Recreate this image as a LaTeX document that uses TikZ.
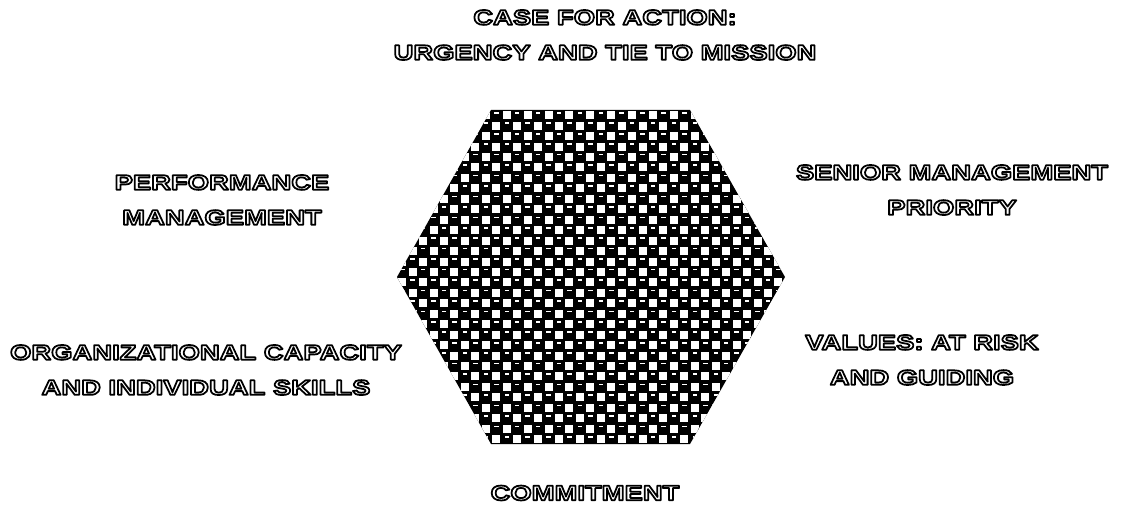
\documentclass[tikz,border=0pt]{standalone}
\usepackage{fontspec}
\usepackage{tikz}
\usetikzlibrary{positioning, calc}
\newfontfamily\titfont{Liberation Sans}[FakeStretch=1.3]
% lettere vuote, solo contorno
\newcommand{\bordo}[1]{\special{pdf:literal direct 1 Tr 1.0 w 1 j}#1\special{pdf:literal direct 0 Tr}}

\begin{document}
\begin{tikzpicture}[x=0.02cm, y=-0.02cm,
  etichetta/.style={align=center, inner sep=0pt, text=black,
    font=\titfont\bfseries\fontsize{12}{20}\selectfont}]

  \useasboundingbox (0,0) rectangle (1125,510);

  % Esagono
  \coordinate (A) at (491,110);
  \coordinate (B) at (690,110);
  \coordinate (C) at (785,277);
  \coordinate (D) at (690,444);
  \coordinate (E) at (491,444);
  \coordinate (F) at (397,277);
  \fill[black] (A) -- (B) -- (C) -- (D) -- (E) -- (F) -- cycle;

  % Trama a scacchi
  \begin{scope}
    \clip (A) -- (B) -- (C) -- (D) -- (E) -- (F) -- cycle;
    \foreach \j [evaluate=\j as \off using {mod(\j,2)*10.45}] in {0,...,32}
      \foreach \i in {0,2,...,38} {
        \fill[white] ({397+\i*10.45+\off+1.2},{110+\j*10.45+1.2}) rectangle ++(8,8);
        \fill[white] ({397+(\i+1)*10.45-\off+3},{110+\j*10.45+2}) rectangle ++(4.5,1.6);
      }
  \end{scope}

  % Etichette
  \node[etichetta] (azione) at (605,35) {\bordo{CASE FOR ACTION:}\\ \bordo{URGENCY AND TIE TO MISSION}};
  \node[etichetta] (priorita) at (952,190) {\bordo{SENIOR MANAGEMENT}\\ \bordo{PRIORITY}};
  \node[etichetta] (valori) at (922,360) {\bordo{VALUES: AT RISK}\\ \bordo{AND GUIDING}};
  \node[etichetta] (impegno) at (585,493) {\bordo{COMMITMENT}};
  \node[etichetta] (capacita) at (206,370) {\bordo{ORGANIZATIONAL CAPACITY}\\ \bordo{AND INDIVIDUAL SKILLS}};
  \node[etichetta] (prestazioni) at (222,200) {\bordo{PERFORMANCE}\\ \bordo{MANAGEMENT}};
\end{tikzpicture}
\end{document}
